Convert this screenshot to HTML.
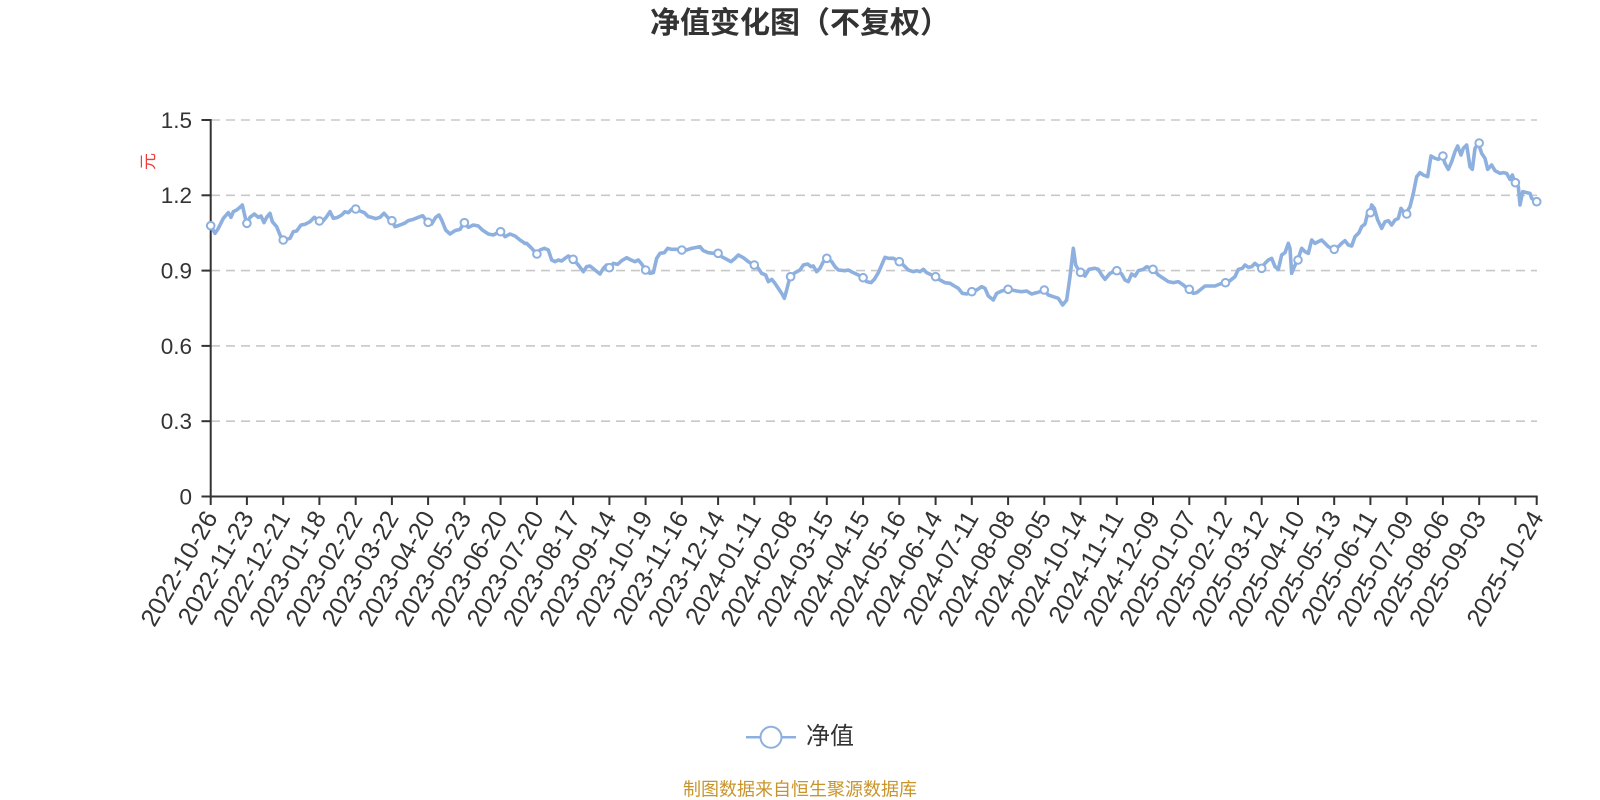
<!DOCTYPE html>
<html>
<head>
<meta charset="utf-8">
<style>
  html, body { margin: 0; padding: 0; background: #ffffff; }
  svg { display: block; }
  text { font-family: "Liberation Sans", "Noto Sans CJK SC", sans-serif; }
</style>
</head>
<body>
<svg width="1600" height="800" viewBox="0 0 1600 800" xmlns="http://www.w3.org/2000/svg">
  <rect x="0" y="0" width="1600" height="800" fill="#ffffff"/>

  <!-- Title -->
  <text x="800" y="23.5" text-anchor="middle" dominant-baseline="central" font-size="30" font-weight="bold" fill="#333333">净值变化图（不复权）</text>

  <!-- Grid lines -->
  <g stroke="#c8c8c8" stroke-width="1.6" stroke-dasharray="9 6" fill="none">
    <line x1="211" y1="120" x2="1537" y2="120"/>
    <line x1="211" y1="195.3" x2="1537" y2="195.3"/>
    <line x1="211" y1="270.6" x2="1537" y2="270.6"/>
    <line x1="211" y1="345.9" x2="1537" y2="345.9"/>
    <line x1="211" y1="421.2" x2="1537" y2="421.2"/>
  </g>

  <!-- Y axis -->
  <g stroke="#333333" stroke-width="2" fill="none">
    <line x1="210.7" y1="119" x2="210.7" y2="497.5"/>
    <line x1="201.5" y1="120" x2="210.7" y2="120"/>
    <line x1="201.5" y1="195.3" x2="210.7" y2="195.3"/>
    <line x1="201.5" y1="270.6" x2="210.7" y2="270.6"/>
    <line x1="201.5" y1="345.9" x2="210.7" y2="345.9"/>
    <line x1="201.5" y1="421.2" x2="210.7" y2="421.2"/>
    <line x1="201.5" y1="496.5" x2="210.7" y2="496.5"/>
  </g>
  <g font-size="22.5" fill="#333333" text-anchor="end">
    <text x="192" y="120" dy="0.35em">1.5</text>
    <text x="192" y="195.3" dy="0.35em">1.2</text>
    <text x="192" y="270.6" dy="0.35em">0.9</text>
    <text x="192" y="345.9" dy="0.35em">0.6</text>
    <text x="192" y="421.2" dy="0.35em">0.3</text>
    <text x="192" y="496.5" dy="0.35em">0</text>
  </g>
  <text x="148.5" y="161.5" font-size="17" fill="#f03c3c" text-anchor="middle" dominant-baseline="central" transform="rotate(-90 148.5 161.5)">元</text>

  <!-- X axis -->
  <g stroke="#333333" stroke-width="2" fill="none">
    <line x1="209.7" y1="496.5" x2="1537.7" y2="496.5"/>
    <line x1="210.7" y1="496.5" x2="210.7" y2="505"/>
    <line x1="246.9" y1="496.5" x2="246.9" y2="505"/>
    <line x1="283.2" y1="496.5" x2="283.2" y2="505"/>
    <line x1="319.4" y1="496.5" x2="319.4" y2="505"/>
    <line x1="355.7" y1="496.5" x2="355.7" y2="505"/>
    <line x1="391.9" y1="496.5" x2="391.9" y2="505"/>
    <line x1="428.1" y1="496.5" x2="428.1" y2="505"/>
    <line x1="464.4" y1="496.5" x2="464.4" y2="505"/>
    <line x1="500.6" y1="496.5" x2="500.6" y2="505"/>
    <line x1="536.9" y1="496.5" x2="536.9" y2="505"/>
    <line x1="573.1" y1="496.5" x2="573.1" y2="505"/>
    <line x1="609.4" y1="496.5" x2="609.4" y2="505"/>
    <line x1="645.6" y1="496.5" x2="645.6" y2="505"/>
    <line x1="681.8" y1="496.5" x2="681.8" y2="505"/>
    <line x1="718.1" y1="496.5" x2="718.1" y2="505"/>
    <line x1="754.3" y1="496.5" x2="754.3" y2="505"/>
    <line x1="790.6" y1="496.5" x2="790.6" y2="505"/>
    <line x1="826.8" y1="496.5" x2="826.8" y2="505"/>
    <line x1="863.1" y1="496.5" x2="863.1" y2="505"/>
    <line x1="899.3" y1="496.5" x2="899.3" y2="505"/>
    <line x1="935.6" y1="496.5" x2="935.6" y2="505"/>
    <line x1="971.8" y1="496.5" x2="971.8" y2="505"/>
    <line x1="1008.1" y1="496.5" x2="1008.1" y2="505"/>
    <line x1="1044.3" y1="496.5" x2="1044.3" y2="505"/>
    <line x1="1080.5" y1="496.5" x2="1080.5" y2="505"/>
    <line x1="1116.8" y1="496.5" x2="1116.8" y2="505"/>
    <line x1="1153" y1="496.5" x2="1153" y2="505"/>
    <line x1="1189.3" y1="496.5" x2="1189.3" y2="505"/>
    <line x1="1225.5" y1="496.5" x2="1225.5" y2="505"/>
    <line x1="1261.7" y1="496.5" x2="1261.7" y2="505"/>
    <line x1="1298" y1="496.5" x2="1298" y2="505"/>
    <line x1="1334.2" y1="496.5" x2="1334.2" y2="505"/>
    <line x1="1370.4" y1="496.5" x2="1370.4" y2="505"/>
    <line x1="1406.7" y1="496.5" x2="1406.7" y2="505"/>
    <line x1="1442.9" y1="496.5" x2="1442.9" y2="505"/>
    <line x1="1479.2" y1="496.5" x2="1479.2" y2="505"/>
    <line x1="1515.4" y1="496.5" x2="1515.4" y2="505"/>
    <line x1="1536.7" y1="496.5" x2="1536.7" y2="505"/>
  </g>
  <g font-size="25" fill="#333333" text-anchor="end">
    <text x="210.7" y="513" dy="0.35em" transform="rotate(-60 210.7 513)">2022-10-26</text>
    <text x="246.9" y="513" dy="0.35em" transform="rotate(-60 246.9 513)">2022-11-23</text>
    <text x="283.2" y="513" dy="0.35em" transform="rotate(-60 283.2 513)">2022-12-21</text>
    <text x="319.4" y="513" dy="0.35em" transform="rotate(-60 319.4 513)">2023-01-18</text>
    <text x="355.7" y="513" dy="0.35em" transform="rotate(-60 355.7 513)">2023-02-22</text>
    <text x="391.9" y="513" dy="0.35em" transform="rotate(-60 391.9 513)">2023-03-22</text>
    <text x="428.1" y="513" dy="0.35em" transform="rotate(-60 428.1 513)">2023-04-20</text>
    <text x="464.4" y="513" dy="0.35em" transform="rotate(-60 464.4 513)">2023-05-23</text>
    <text x="500.6" y="513" dy="0.35em" transform="rotate(-60 500.6 513)">2023-06-20</text>
    <text x="536.9" y="513" dy="0.35em" transform="rotate(-60 536.9 513)">2023-07-20</text>
    <text x="573.1" y="513" dy="0.35em" transform="rotate(-60 573.1 513)">2023-08-17</text>
    <text x="609.4" y="513" dy="0.35em" transform="rotate(-60 609.4 513)">2023-09-14</text>
    <text x="645.6" y="513" dy="0.35em" transform="rotate(-60 645.6 513)">2023-10-19</text>
    <text x="681.8" y="513" dy="0.35em" transform="rotate(-60 681.8 513)">2023-11-16</text>
    <text x="718.1" y="513" dy="0.35em" transform="rotate(-60 718.1 513)">2023-12-14</text>
    <text x="754.3" y="513" dy="0.35em" transform="rotate(-60 754.3 513)">2024-01-11</text>
    <text x="790.6" y="513" dy="0.35em" transform="rotate(-60 790.6 513)">2024-02-08</text>
    <text x="826.8" y="513" dy="0.35em" transform="rotate(-60 826.8 513)">2024-03-15</text>
    <text x="863.1" y="513" dy="0.35em" transform="rotate(-60 863.1 513)">2024-04-15</text>
    <text x="899.3" y="513" dy="0.35em" transform="rotate(-60 899.3 513)">2024-05-16</text>
    <text x="935.6" y="513" dy="0.35em" transform="rotate(-60 935.6 513)">2024-06-14</text>
    <text x="971.8" y="513" dy="0.35em" transform="rotate(-60 971.8 513)">2024-07-11</text>
    <text x="1008.1" y="513" dy="0.35em" transform="rotate(-60 1008.1 513)">2024-08-08</text>
    <text x="1044.3" y="513" dy="0.35em" transform="rotate(-60 1044.3 513)">2024-09-05</text>
    <text x="1080.5" y="513" dy="0.35em" transform="rotate(-60 1080.5 513)">2024-10-14</text>
    <text x="1116.8" y="513" dy="0.35em" transform="rotate(-60 1116.8 513)">2024-11-11</text>
    <text x="1153" y="513" dy="0.35em" transform="rotate(-60 1153 513)">2024-12-09</text>
    <text x="1189.3" y="513" dy="0.35em" transform="rotate(-60 1189.3 513)">2025-01-07</text>
    <text x="1225.5" y="513" dy="0.35em" transform="rotate(-60 1225.5 513)">2025-02-12</text>
    <text x="1261.7" y="513" dy="0.35em" transform="rotate(-60 1261.7 513)">2025-03-12</text>
    <text x="1298" y="513" dy="0.35em" transform="rotate(-60 1298 513)">2025-04-10</text>
    <text x="1334.2" y="513" dy="0.35em" transform="rotate(-60 1334.2 513)">2025-05-13</text>
    <text x="1370.4" y="513" dy="0.35em" transform="rotate(-60 1370.4 513)">2025-06-11</text>
    <text x="1406.7" y="513" dy="0.35em" transform="rotate(-60 1406.7 513)">2025-07-09</text>
    <text x="1442.9" y="513" dy="0.35em" transform="rotate(-60 1442.9 513)">2025-08-06</text>
    <text x="1479.2" y="513" dy="0.35em" transform="rotate(-60 1479.2 513)">2025-09-03</text>
    <text x="1536.7" y="513" dy="0.35em" transform="rotate(-60 1536.7 513)">2025-10-24</text>
  </g>

  <!-- Series line -->
  <g fill="none" stroke="#8eb0df" stroke-width="3.6" stroke-linejoin="round" stroke-linecap="round">
    <g transform="translate(195 130) scale(0.333333)">
      <polyline vector-effect="non-scaling-stroke" points="47,287 60,310 70,295 85,265 100,248 108,262 115,245 125,240 135,232 142,225 150,260 155,280 165,262 178,252 190,262 198,258 207,278 215,262 225,250 232,275 245,290 255,315 263,330 275,328 285,325 295,305 305,303 318,285 330,283 345,275 358,262 372,273 385,272 395,260 405,245 415,265 428,262 440,255 450,245 460,248 470,238 482,237 495,243 508,248 520,260 530,262 542,266 555,262 567,250 578,262 591,272 600,290 615,285 628,280 640,272 655,268 670,262 683,257 698,277 710,282 722,262 732,255 740,270 752,300 765,312 780,302 795,298 808,278 820,292 835,285 850,288 862,300 880,312 895,315 908,308 918,305 930,320 945,312 960,318 975,330 990,340"/>
    </g>
    <g transform="translate(515 200) scale(0.333333)">
      <polyline vector-effect="non-scaling-stroke" points="30,130 35,130 50,145 65,162 75,150 88,145 100,150 110,180 120,185 130,180 140,183 150,175 160,168 175,178 190,195 205,215 215,200 225,198 240,210 255,222 265,205 275,195 283,203 295,190 308,193 320,182 335,173 348,180 360,185 370,180 380,192 392,210 405,220 415,218 425,175 435,160 448,158 458,145 470,148 485,148 500,150 515,150 530,145 545,142 555,140 565,152 580,158 595,160 608,160 620,170 635,178 648,185 660,175 670,165 685,173 700,185 717,195 730,205 740,220 752,225 760,245 770,238 780,250 790,265 800,280 808,295 815,270 825,230 840,218 855,210 865,195 878,192 888,200 895,198 905,215 915,205 925,185 935,175 950,185 960,200 970,210 990,212"/>
    </g>
    <g transform="translate(835 220) scale(0.333333)">
      <polyline vector-effect="non-scaling-stroke" points="30,152 40,150 55,158 70,165 85,173 95,185 108,188 118,178 130,158 140,135 150,112 160,115 175,115 193,125 205,135 220,150 235,155 245,152 255,155 265,148 275,158 290,165 300,170 315,180 330,188 345,190 358,198 370,205 382,220 395,222 410,215 425,210 440,200 450,205 460,228 475,240 485,220 500,213 518,208 530,210 545,213 560,215 575,213 590,222 605,218 615,215 627,210 640,225 655,230 670,235 683,255 695,240 705,170 715,85 722,135 735,157 750,168 762,148 780,145 790,148 800,165 810,178 825,160 845,152 860,162 870,180 880,185 890,162 900,168 910,152 925,148 935,140 955,148 970,165 990,178"/>
    </g>
    <g transform="translate(1155 130) scale(0.333333)">
      <polyline vector-effect="non-scaling-stroke" points="30,448 40,455 55,458 70,455 85,465 100,478 115,490 125,488 135,480 150,468 165,468 180,468 195,462 210,458 225,452 240,440 250,418 262,415 270,405 280,412 290,410 300,400 318,415 330,400 340,390 350,385 360,410 370,418 380,375 390,368 400,340 405,355 410,430 418,410 428,390 440,355 450,365 460,370 470,330 480,340 490,335 500,330 510,340 520,350 535,358 550,350 560,340 570,332 580,345 590,348 600,320 612,308 620,290 630,282 638,250 645,248 650,225 658,235 668,270 680,295 690,275 700,272 710,285 720,270 730,265 738,235 745,245 752,252 765,230 775,190 785,140 795,128 805,135 818,140 828,78 840,85 850,88 862,78 870,100 880,118 890,95 900,65 908,48 918,75 925,55 935,45 945,110 952,118 960,55 970,40 980,70 990,85 998,118 1010,105 1020,122 1035,130 1045,128 1055,130 1065,148"/>
    </g>
    <g transform="translate(1480 150) scale(0.333333)">
      <polyline vector-effect="non-scaling-stroke" points="90,88 97,75 105,98 115,110 120,165 128,125 140,128 150,130 155,145 170,155"/>
    </g>
  </g>

  <!-- Markers -->
  <g fill="#ffffff" stroke="#8eb0df" stroke-width="2">
    <circle cx="210.7" cy="225.7" r="3.8"/>
    <circle cx="246.9" cy="223.3" r="3.8"/>
    <circle cx="283.2" cy="240" r="3.8"/>
    <circle cx="319.4" cy="221" r="3.8"/>
    <circle cx="355.7" cy="209" r="3.8"/>
    <circle cx="391.9" cy="220.7" r="3.8"/>
    <circle cx="428.1" cy="222.3" r="3.8"/>
    <circle cx="464.4" cy="222.7" r="3.8"/>
    <circle cx="500.6" cy="231.7" r="3.8"/>
    <circle cx="536.9" cy="254" r="3.8"/>
    <circle cx="573.1" cy="259.3" r="3.8"/>
    <circle cx="609.4" cy="267.7" r="3.8"/>
    <circle cx="645.6" cy="270" r="3.8"/>
    <circle cx="681.8" cy="250" r="3.8"/>
    <circle cx="718.1" cy="253.3" r="3.8"/>
    <circle cx="754.3" cy="265" r="3.8"/>
    <circle cx="790.6" cy="276.7" r="3.8"/>
    <circle cx="826.8" cy="258.3" r="3.8"/>
    <circle cx="863.1" cy="277.7" r="3.8"/>
    <circle cx="899.3" cy="261.7" r="3.8"/>
    <circle cx="935.6" cy="276.7" r="3.8"/>
    <circle cx="971.8" cy="291.7" r="3.8"/>
    <circle cx="1008.1" cy="289.3" r="3.8"/>
    <circle cx="1044.3" cy="290" r="3.8"/>
    <circle cx="1080.5" cy="272.3" r="3.8"/>
    <circle cx="1116.8" cy="270.7" r="3.8"/>
    <circle cx="1153" cy="269.3" r="3.8"/>
    <circle cx="1189.3" cy="289.3" r="3.8"/>
    <circle cx="1225.5" cy="282.7" r="3.8"/>
    <circle cx="1261.7" cy="268.3" r="3.8"/>
    <circle cx="1298" cy="260" r="3.8"/>
    <circle cx="1334.2" cy="249.3" r="3.8"/>
    <circle cx="1370.4" cy="212.7" r="3.8"/>
    <circle cx="1406.7" cy="214" r="3.8"/>
    <circle cx="1442.9" cy="156" r="3.8"/>
    <circle cx="1479.2" cy="143" r="3.8"/>
    <circle cx="1515.4" cy="182.7" r="3.8"/>
    <circle cx="1536.7" cy="201.7" r="3.8"/>
  </g>

  <!-- Legend -->
  <line x1="746" y1="737.3" x2="796" y2="737.3" stroke="#8eb0df" stroke-width="2.5"/>
  <circle cx="771" cy="737.3" r="10.5" fill="#ffffff" stroke="#8eb0df" stroke-width="2"/>
  <text x="806" y="736.5" font-size="24" fill="#333333" dominant-baseline="central">净值</text>

  <!-- Footer -->
  <text x="800" y="789.5" text-anchor="middle" dominant-baseline="central" font-size="18" fill="#c9952b">制图数据来自恒生聚源数据库</text>
</svg>
</body>
</html>
